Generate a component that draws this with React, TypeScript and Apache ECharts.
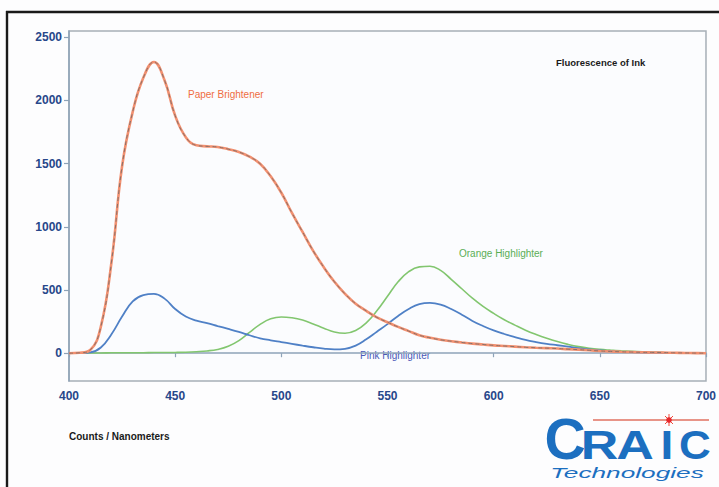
import React, { useEffect, useRef } from "react";
import * as echarts from "echarts";

const yTickValues = [0, 500, 1000, 1500, 2000, 2500];

const wavelengths = [400, 405, 410, 415, 420, 425, 430, 435, 440, 445, 450, 455, 460, 465, 470, 475, 480, 485, 490, 495, 500, 505, 510, 515, 520, 525, 530, 535, 540, 545, 550, 555, 560, 565, 570, 575, 580, 585, 590, 595, 600, 605, 610, 615, 620, 625, 630, 635, 640, 645, 650, 655, 660, 665, 670, 675, 680, 685, 690, 695, 700];

const paperBrightener = [0, 3, 25, 210, 720, 1480, 1910, 2180, 2305, 2160, 1880, 1710, 1645, 1637, 1632, 1615, 1592, 1555, 1500, 1400, 1270, 1110, 960, 810, 680, 565, 470, 392, 335, 283, 245, 208, 175, 142, 122, 106, 95, 85, 76, 69, 62, 57, 52, 47, 43, 40, 37, 32, 28, 23, 18, 14, 11, 9, 7, 6, 5, 3, 2, 1, 0];

const pinkHighlighter = [0, 1, 6, 45, 150, 290, 410, 460, 470, 432, 350, 290, 258, 238, 215, 192, 168, 142, 118, 102, 88, 74, 60, 47, 36, 30, 35, 60, 110, 170, 230, 295, 350, 388, 398, 385, 350, 305, 255, 215, 180, 152, 128, 105, 88, 74, 63, 52, 40, 30, 22, 16, 11, 8, 6, 4, 3, 2, 1, 0, 0];

const orangeHighlighter = [0, 1, 2, 2, 3, 3, 4, 4, 5, 5, 6, 8, 12, 18, 30, 55, 100, 165, 228, 272, 287, 280, 262, 232, 198, 168, 158, 180, 240, 335, 450, 565, 645, 683, 688, 655, 585, 510, 435, 370, 315, 265, 222, 182, 148, 118, 92, 70, 52, 39, 30, 24, 19, 15, 11, 8, 5, 3, 2, 1, 0];

const zip = (xs: number[], ys: number[]) => xs.map((x, i) => [x, ys[i]]);

const FONT = "'Liberation Sans', Arial, sans-serif";

export default function App() {
  const ref = useRef<HTMLDivElement>(null);
  useEffect(() => {
    if (!ref.current) return;
    const chart = echarts.init(ref.current, null, { renderer: "svg" });
    const axisColor = "#8ea3b8";
    const labelStyle = { color: "#27478a", fontWeight: "bold" as const, fontSize: 12, fontFamily: FONT };
    const txt = (text: string, x: number, y: number, extra: any = {}, el: any = {}) => ({
      type: "text",
      x,
      y,
      silent: true,
      ...el,
      style: { text, fontFamily: FONT, fontSize: 10, align: "left", verticalAlign: "middle", textAlign: "left", textVerticalAlign: "middle", ...extra },
    });
    const logoBlue = "#1c6fc0";
    const smooth = 0.45;
    chart.setOption({
      animation: false,
      backgroundColor: "#fdfdfe",
      grid: { left: 69, right: 10, top: 31, bottom: 106, show: true, borderColor: "#a7afb7", borderWidth: 1.5, backgroundColor: "#fbfcfe" },
      xAxis: {
        type: "value",
        min: 400,
        max: 700,
        interval: 50,
        axisLine: { show: true, lineStyle: { color: axisColor, width: 1.5 } },
        axisTick: { show: true, length: 4, inside: false, lineStyle: { color: axisColor, width: 1.2 } },
        axisLabel: { ...labelStyle, margin: 9, formatter: (v: number) => String(v) },
        splitLine: { show: false },
      },
      yAxis: {
        type: "value",
        min: -220,
        max: 2550,
        axisLine: { show: true, lineStyle: { color: axisColor, width: 1.5 } },
        axisTick: { show: true, length: 5, inside: false, customValues: yTickValues, lineStyle: { color: axisColor, width: 1.2 } },
        axisLabel: { ...labelStyle, margin: 7, customValues: yTickValues, formatter: (v: number) => String(v) },
        splitLine: { show: false },
      },
      series: [
        {
          name: "Orange Highlighter",
          type: "line",
          data: zip(wavelengths, orangeHighlighter),
          smooth,
          showSymbol: false,
          lineStyle: { color: "#82c66f", width: 1.6 },
        },
        {
          name: "Pink Highlighter",
          type: "line",
          data: zip(wavelengths, pinkHighlighter),
          smooth,
          showSymbol: false,
          lineStyle: { color: "#4f80c6", width: 1.8 },
        },
        {
          name: "Paper Brightener",
          type: "line",
          data: zip(wavelengths, paperBrightener),
          smooth,
          showSymbol: false,
          lineStyle: { color: "#f29070", width: 2.6 },
        },
        {
          name: "Paper Brightener overlay",
          type: "line",
          data: zip(wavelengths, paperBrightener),
          smooth,
          showSymbol: false,
          silent: true,
          lineStyle: { color: "#8a7068", width: 1, type: [4, 3] },
        },
      ],
      graphic: [
        { type: "line", silent: true, shape: { x1: 6, y1: 12, x2: 719, y2: 12 }, style: { stroke: "#1a1a1a", lineWidth: 2.4 } },
        { type: "line", silent: true, shape: { x1: 7, y1: 11, x2: 7, y2: 487 }, style: { stroke: "#1a1a1a", lineWidth: 2.4 } },
        txt("Paper Brightener", 188, 94, { fill: "#ef6c42", fontSize: 10 }),
        txt("Fluorescence of Ink", 556, 62, { fill: "#1a1a1a", fontSize: 9.5, fontWeight: "bold" }),
        txt("Orange Highlighter", 459, 253, { fill: "#5aae55", fontSize: 10 }),
        txt("Pink Highlighter", 360, 355, { fill: "#4a58b8", fontSize: 10 }),
        txt("Counts / Nanometers", 69, 436, { fill: "#1a1a1a", fontSize: 10, fontWeight: "bold" }),
        // logo
        { type: "line", silent: true, shape: { x1: 593, y1: 420, x2: 709, y2: 420 }, style: { stroke: "#e07060", lineWidth: 1.6 } },
        { type: "line", silent: true, shape: { x1: 669, y1: 414, x2: 669, y2: 426 }, style: { stroke: "#f04a3a", lineWidth: 1 } },
        { type: "line", silent: true, shape: { x1: 665, y1: 416, x2: 673, y2: 424 }, style: { stroke: "#f04a3a", lineWidth: 1 } },
        { type: "line", silent: true, shape: { x1: 673, y1: 416, x2: 665, y2: 424 }, style: { stroke: "#f04a3a", lineWidth: 1 } },
        { type: "circle", silent: true, shape: { cx: 669, cy: 420, r: 2.8 }, style: { fill: "#e8262a" } },
        txt("C", 565, 439, { fill: logoBlue, fontSize: 57, fontWeight: "bold", align: "center", textAlign: "center" }),
        txt("R", 599.5, 445, { fill: logoBlue, fontSize: 40, fontWeight: "bold", align: "center", textAlign: "center" }, { scaleX: 1.3 }),
        txt("A", 635, 445, { fill: logoBlue, fontSize: 40, fontWeight: "bold", align: "center", textAlign: "center" }, { scaleX: 1.3 }),
        txt("I", 667, 445, { fill: logoBlue, fontSize: 40, fontWeight: "bold", align: "center", textAlign: "center" }, { scaleX: 1.15 }),
        txt("C", 695, 445, { fill: logoBlue, fontSize: 40, fontWeight: "bold", align: "center", textAlign: "center" }, { scaleX: 1.1 }),
        txt("Technologies", 627, 473, { fill: logoBlue, fontSize: 15, fontStyle: "italic", align: "center", textAlign: "center" }, { scaleX: 1.75 }),
      ],
    });
    return () => chart.dispose();
  }, []);
  return <div ref={ref} style={{ width: 719, height: 487, position: "absolute", left: 0, top: 0 }} />;
}
